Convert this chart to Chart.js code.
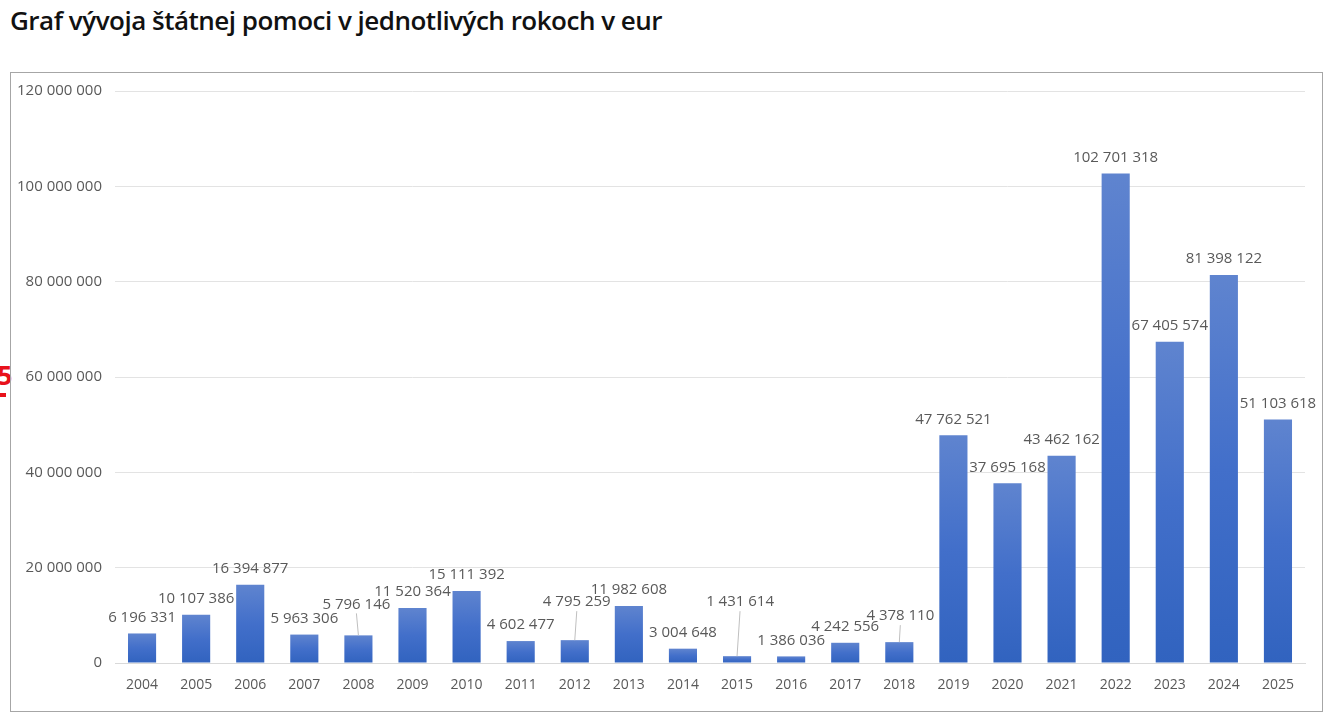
<!DOCTYPE html>
<html>
<head>
<meta charset="utf-8">
<script src="https://cdn.jsdelivr.net/npm/chart.js@4/dist/chart.umd.min.js"></script>
<style>
  html, body { margin: 0; padding: 0; background: #fff; }
  body { width: 1338px; height: 725px; position: relative; overflow: hidden; font-family: "Open Sans", sans-serif; }
  #title { position: absolute; left: 10px; top: 2px; font-size: 26px; font-weight: 600; letter-spacing: -0.5px; color: #111; }
  #frame { position: absolute; left: 10px; top: 72px; width: 1311px; height: 638px; border: 1px solid #a6a6a6; }
  #red { position: absolute; left: -3px; top: 356px; color: #e8121b; font: bold 27px "Open Sans", sans-serif; }
  #red2 { position: absolute; left: 0px; top: 393px; width: 6px; height: 4px; background: #e8121b; }
  canvas { display: block; }
</style>
</head>
<body>
<div id="title">Graf vývoja štátnej pomoci v jednotlivých rokoch v eur</div>
<div id="red">5</div>
<div id="red2"></div>
<div id="frame"><canvas id="aid" width="1311" height="638"></canvas></div>
<script>
// years on the x axis
var years = ["2004", "2005", "2006", "2007", "2008", "2009", "2010", "2011", "2012", "2013", "2014",
  "2015", "2016", "2017", "2018", "2019", "2020", "2021", "2022", "2023", "2024", "2025"];
// state aid in eur
var aid = [6196331, 10107386, 16394877, 5963306, 5796146, 11520364, 15111392, 4602477, 4795259, 11982608, 3004648,
  1431614, 1386036, 4242556, 4378110, 47762521, 37695168, 43462162, 102701318, 67405574, 81398122, 51103618];
var yTicks = [0, 20000000, 40000000, 60000000, 80000000, 100000000, 120000000];
// labels pushed away from their bar (drawn with a leader line)
var labelShiftX = [0, 0, 0, 0, -2, 0, 0, 0, 2, 0, 0, 3, 0, 0, 1, 0, 0, 0, 0, 0, 0, 0];
var labelShiftY = [0, 0, 0, 0, -15, 0, 0, 0, -22, 0, 0, -38, 0, 0, -10, 0, 0, 0, 0, 0, 0, 0];

function fmt(v) {
  return String(v).replace(/\B(?=(\d{3})+(?!\d))/g, " ");
}

var barLabels = {
  id: "barLabels",
  afterDatasetsDraw: function(chart) {
    var ctx = chart.ctx;
    var meta = chart.getDatasetMeta(0);
    ctx.save();
    ctx.font = "15px 'Open Sans', sans-serif";
    ctx.fillStyle = "#595959";
    ctx.textAlign = "center";
    ctx.textBaseline = "middle";
    meta.data.forEach(function(bar, i) {
      var lx = bar.x + labelShiftX[i];
      var ly = bar.y - 16 + labelShiftY[i];
      if (labelShiftY[i] != 0) {
        ctx.strokeStyle = "#bfbfbf";
        ctx.lineWidth = 1;
        ctx.beginPath();
        ctx.moveTo(lx, ly + 9);
        ctx.lineTo(bar.x, bar.y);
        ctx.stroke();
      }
      ctx.fillText(fmt(aid[i]), lx, ly);
    });
    ctx.restore();
  }
};

function barFill(c) {
  var chart = c.chart;
  if (!chart.chartArea || c.type !== "data") return "#3f6fca";
  var y = chart.scales.y;
  var top = y.getPixelForValue(aid[c.dataIndex]);
  var bottom = y.getPixelForValue(0);
  if (!(bottom > top)) return "#3f6fca";
  var g = chart.ctx.createLinearGradient(0, top, 0, bottom);
  g.addColorStop(0, "#5f84cf");
  g.addColorStop(0.5, "#426fca");
  g.addColorStop(1, "#3163bf");
  return g;
}

var ctx = document.getElementById("aid").getContext("2d");
var chart = new Chart(ctx, {
  type: "bar",
  data: {
    labels: years,
    datasets: [
      {
        data: aid,
        backgroundColor: barFill,
        borderWidth: 0,
        barPercentage: 0.52,
        categoryPercentage: 1
      }
    ]
  },
  options: {
    responsive: false,
    animation: false,
    devicePixelRatio: 1,
    layout: {
      padding: { top: 18, right: 17, left: 0, bottom: 0 }
    },
    plugins: {
      legend: { display: false },
      tooltip: { enabled: false }
    },
    scales: {
      x: {
        grid: { display: false },
        border: { display: true, color: "#d9d9d9" },
        ticks: {
          color: "#595959",
          font: { family: "'Open Sans', sans-serif", size: 14 },
          padding: 6,
          maxRotation: 0,
          autoSkip: false
        },
        afterFit: function(s) { s.height = 48; }
      },
      y: {
        min: 0,
        max: 120000000,
        grid: { color: "#e3e3e3", drawTicks: false },
        border: { display: false },
        afterBuildTicks: function(s) {
          s.ticks = yTicks.map(function(v) { return { value: v }; });
        },
        afterFit: function(s) {
          s.width = 104;
          s.paddingTop = 0;
          s.paddingBottom = 0;
        },
        ticks: {
          color: "#595959",
          font: { family: "'Open Sans', sans-serif", size: 15 },
          padding: 13,
          callback: function(v) { return fmt(v); }
        }
      }
    }
  },
  plugins: [barLabels]
});
</script>
</body>
</html>
